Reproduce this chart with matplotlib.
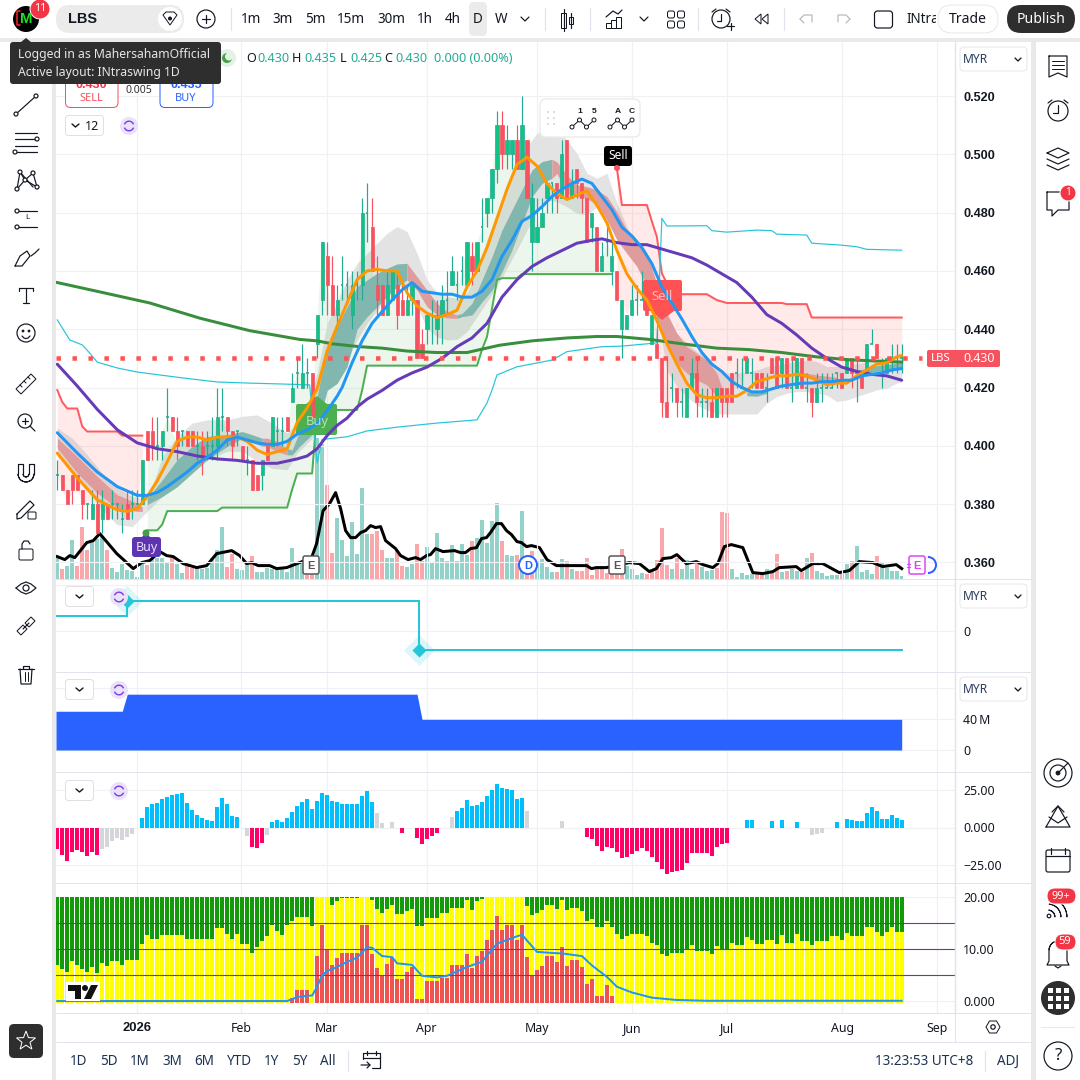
import numpy as np
import matplotlib
matplotlib.use("Agg")
import matplotlib.pyplot as plt
from matplotlib.patches import FancyBboxPatch, Rectangle, Circle, Polygon, Wedge

plt.rcParams['font.family'] = ['Noto Sans', 'DejaVu Sans']
BOLD_FONT = ['Liberation Sans', 'DejaVu Sans']

# ---------- price data (thousandths of MYR) ----------
ohlc_rows = [
(390,395,385,390),(390,390,385,385),(385,385,380,380),(390,390,380,385),(390,390,385,385),
(385,385,375,380),(380,380,375,380),(375,385,375,380),(380,385,370,370),(375,385,370,380),
(380,380,375,375),(380,385,375,380),(380,380,375,380),(375,380,370,375),(380,385,375,375),
(380,385,375,380),(380,385,380,380),(380,395,380,395),(405,405,395,395),(405,410,395,400),
(400,410,395,400),(400,405,395,405),(410,420,405,410),(410,410,405,405),(405,410,395,400),
(405,405,400,405),(405,405,400,400),(405,405,400,400),(400,405,395,400),(400,405,390,395),
(400,405,395,400),(400,410,395,400),(400,420,395,410),(410,420,405,410),(410,410,400,405),
(405,405,395,400),(405,405,400,405),(400,400,395,395),(395,400,390,395),(395,395,385,385),
(390,390,385,385),(390,395,385,395),(400,400,395,395),(400,410,400,410),(405,410,400,405),
(405,410,400,405),(410,410,405,405),(415,425,415,420),(425,430,420,425),(420,435,420,425),
(425,430,420,425),(425,425,410,410),(435,445,430,445),(450,470,445,470),(465,470,445,455),
(455,465,445,445),(445,455,440,450),(455,465,450,455),(455,460,450,455),(445,460,440,455),
(455,460,450,455),(455,485,450,480),(480,490,470,480),(475,485,460,460),(455,465,445,450),
(455,455,445,445),(445,460,445,455),(450,460,450,460),(455,460,440,445),(450,455,445,445),
(445,455,445,450),(450,455,445,455),(450,450,430,430),(435,440,430,430),(440,445,435,445),
(445,450,435,445),(440,450,435,445),(445,455,435,450),(450,460,445,450),(455,465,455,460),
(455,460,450,455),(460,465,455,460),(455,470,455,470),(465,470,455,460),(460,470,460,470),
(475,485,470,475),(480,485,475,485),(485,495,480,495),(495,515,490,510),(510,515,495,500),
(500,510,495,505),(500,505,495,505),(505,510,495,495),(495,520,495,510),(505,505,485,485),
(470,490,460,485),(470,485,470,475),(475,485,475,480),(485,490,480,490),(490,490,480,490),
(490,490,480,485),(485,505,485,500),(505,505,485,485),(485,495,485,490),(495,495,485,490),
(490,490,480,485),(485,485,470,470),(475,480,470,480),(475,475,460,460),(460,470,460,465),
(470,475,465,470),(460,470,455,465),(460,460,450,450),(440,450,430,450),(440,445,440,445),
(445,455,445,450),(450,455,445,450),(450,460,450,450),(450,450,445,445),(435,445,435,445),
(435,440,430,430),(430,430,410,415),(415,430,410,410),(420,425,415,420),(420,420,410,415),
(415,420,410,415),(410,420,410,420),(420,430,420,425),(425,430,410,415),(415,420,410,415),
(415,420,410,415),(415,420,410,410),(410,420,410,420),(420,420,410,415),(420,420,410,415),
(425,425,415,415),(425,430,420,425),(420,430,420,420),(425,430,425,430),(425,430,420,425),
(425,425,420,420),(425,425,420,420),(420,425,415,420),(430,430,425,425),(430,430,420,420),
(425,430,420,430),(430,430,420,420),(420,430,415,420),(420,430,420,430),(430,430,420,420),
(420,425,415,420),(420,420,410,415),(415,425,415,420),(420,425,415,420),(420,425,420,420),
(420,425,420,420),(425,425,420,425),(425,425,420,420),(425,430,425,430),(430,430,420,425),
(425,430,415,425),(425,425,420,420),(425,435,425,435),(435,440,435,435),(435,435,430,430),
(425,430,420,425),(425,430,425,430),(430,435,425,430),(430,435,425,430),(430,435,425,430)]
opens = np.array([r[0] for r in ohlc_rows]) / 1000
highs = np.array([r[1] for r in ohlc_rows]) / 1000
lows = np.array([r[2] for r in ohlc_rows]) / 1000
closes = np.array([r[3] for r in ohlc_rows]) / 1000
N = len(closes)
assert N == 170, N
bars = np.arange(N)

volume = [21,10,13,39,13,52,29,39,40,43, 29,11,7,15,9,8,2,15,14,20, 21,21,17,21,15,6,13,11,10,10,
 11,21,29,52,12,25,10,9,15,23, 7,7,11,10,11,11,7,31,15,15, 20,8,141,135,94,26,61,39,23,57,
 25,91,45,45,48,29,21,21,29,13, 12,15,35,18,32,16,46,21,18,34, 18,35,24,38,41,59,36,58,76,38,
 24,23,24,68,8,28,18,20,12,7, 7,20,18,10,8,8,21,4,12,13, 6,11,11,30,13,10,4,6,5,10,
 19,51,14,10,21,10,19,10,15,12, 8,9,11,67,66,10,2,6,4,5, 6,6,10,8,25,7,8,10,8,7,
 21,26,8,6,3,4,4,5,15,18, 33,7,9,5,23,17,11,8,8,3]
assert len(volume) == N, len(volume)
volume_red = [1,4,5,6,10,18,23,26,27,34,35,39,50,51,54,55,63,64,65,68,69,72,73,83,89,92,94,95,100,102,104,105,
 106,107,108,109,110,111,112,113,118,119,120,121,122,124,128,132,133,134,140,141,143,144,146,149,151,157,159,164]
vol_ma_x = [0,1.5,2.5,3.5,5.9,7.2,8.5,11.9,15.2,16.9,18.5,20.5,21.9,23.2,25.2,27.9,29.9,31.9,34.9,36.5,37.9,38.9,40.2,42.5,43.9,45.9,48.5,50.9,51.9,53.2,54.5,
 55.7,56.7,57.7,58.7,59.7,60.7,61.7,62.7,63.7,64.7,65.7,67.7,68.7,70.2,71.7,72.7,73.9,74.7,75.7,77.2,79.5,80.7,81.7,82.7,83.9,84.9,85.9,86.7,87.9,88.9,89.9,90.9,92,92.9,93.9,94.9,96.5,98,99.9,101.2,105.9,106.9,107.9,109.9,
 114.5,116.5,118.5,119.9,121.2,122.9,124,125.9,127.9,129.2,131.2,132.2,133.5,134.9,137.2,139.2,141.2,143.2,144.5,147.9,148.9,151.2,153.2,156.5,158.5,160.5,163.2,165.2,167.9,169]
vol_ma = [22,19,23,21,36,38,45,25,10,16,18,27,23,22,15,11,13,25,28,23,15,16,13,13,10,11,16,21,35,68,75,
 86,70,48,41,41,46,48,53,51,52,38,30,23,19,21,19,23,24,30,27,28,26,26,30,31,40,41,46,55,55,48,44,37,36,32,33,31,19,13,13,13,10,11,11,
 16,15,7,10,20,21,24,15,17,14,11,15,32,34,31,6,5,7,11,12,8,15,15,6,8,17,16,12,14,10]

# ---------- overlays ----------
orange_x = [0,4,8,12,14,16,18,20,22,24,26,28,30,32,34,36,38,40,42,44,46,48,50,52,54,56,58,60,62,64,66,68,70,72,74,76,78,80,82,84,86,88,90,92,94,96,98,100,102,104,106,108,110,112,114,116,118,120,122,124,126,128,130,132,134,136,138,140,142,144,146,148,150,152,154,156,158,160,162,164,166,168,169]
orange_y = [.3975,.389,.3815,.378,.3775,.3785,.3825,.388,.3945,.4015,.403,.403,.402,.403,.403,.403,.4015,.3985,.397,.398,.399,.408,.413,.4195,.4325,.441,.449,.457,.46,.4605,.46,.46,.4525,.448,.4455,.444,.445,.4465,.4545,.46,.468,.478,.488,.4965,.499,.496,.49,.4865,.4845,.486,.4875,.4825,.4765,.467,.459,.454,.45,.443,.435,.428,.4215,.4175,.4165,.4165,.417,.417,.419,.422,.423,.424,.424,.4245,.424,.4225,.421,.4215,.4215,.424,.426,.428,.4285,.4305,.431]
blue_x = [0,4,8,12,16,18,20,22,24,26,28,30,32,34,36,38,40,42,44,46,48,50,52,54,56,57,59,61,63,65,67,69,71,73,75,77,79,81,83,85,87,89,91,93,95,97,99,101,103,105,107,109,111,113,115,117,119,121,123,125,127,129,131,133,135,137,139,141,143,145,147,149,151,153,155,157,159,161,163,165,167,169]
blue_y = [.4045,.3975,.391,.386,.383,.383,.384,.386,.3885,.391,.394,.396,.3985,.402,.403,.402,.401,.4005,.4005,.4015,.404,.4055,.4075,.412,.417,.42,.4285,.436,.442,.446,.45,.4535,.456,.453,.4525,.452,.452,.451,.451,.453,.457,.465,.4705,.477,.479,.482,.4855,.488,.49,.4915,.49,.4855,.481,.475,.472,.468,.4625,.4545,.449,.4435,.4375,.432,.428,.4255,.422,.42,.4185,.4185,.4195,.4205,.421,.4215,.4215,.422,.422,.4225,.4225,.424,.4245,.425,.426,.4265]
purple_x = [0,4,8,12,16,20,24,28,32,36,40,44,48,50,52,54,56,58,60,62,65,68,71,74,77,80,83,86,89,92,95,98,101,104,107,109,112,115,118,121,124,127,130,133,136,139,142,145,148,151,154,157,160,163,166,169]
purple_y = [.428,.4205,.4125,.4055,.401,.399,.398,.3965,.3955,.395,.394,.394,.3955,.3965,.399,.4035,.407,.4095,.4133,.416,.419,.4225,.425,.427,.43,.434,.437,.442,.451,.457,.4615,.4645,.467,.4695,.4705,.471,.4697,.469,.469,.4675,.466,.4645,.462,.459,.456,.451,.445,.442,.438,.4335,.43,.427,.4255,.4245,.424,.4225]
ma_x = [0,8.5,18.5,28.5,38.5,48.5,52,55,60.5,65,70,76,82,88.5,95,102,108,112,118.5,125,132,138.5,145,152,158.5,169]
ma_y = [.456,.4528,.449,.4438,.4395,.4365,.436,.435,.434,.4335,.4325,.432,.432,.4345,.436,.437,.4375,.4375,.4365,.435,.4335,.433,.432,.4305,.4295,.4287]
cyan_x = [0,2.5,5,6.5,8,12,16,25,32,38.5,45,50.5,52,53,58,62,68,76,84,86,87,88,92,99,102,109,113,120,121,122,130,131,134,140,143,144,150,151,156.5,160,162,169]
cyan_y = [.4432,.4363,.4346,.4318,.4287,.4267,.4253,.4233,.4219,.4215,.4212,.4209,.3941,.4022,.4031,.4051,.4064,.4078,.4089,.4147,.4191,.4243,.4271,.4294,.4323,.434,.4342,.4353,.478,.4754,.4755,.4738,.4733,.474,.4738,.4726,.4723,.4695,.4689,.4683,.4674,.4671]

band_x = [0,3,6,9,12,15,17,19,21,24,27,30,34,37,40,43,46,48,50,52,54,56,58,60,62,64,66,68,70,72,74,76,78,80,82,84,86,88,90,92,94,96,98,100,102,104,106,108,110,112,114,116,118,120,122,124,126,128,130,132,134,136,138,140,142,144,146,148,150,152,154,156,158,160,162,164,166,168,169]
band_top = [.4061,.4026,.3969,.3906,.3855,.3826,.382,.386,.3963,.4032,.4078,.4089,.4089,.4101,.4106,.4078,.4043,.4078,.4135,.4249,.442,.4489,.4569,.4626,.466,.4695,.4729,.4752,.4735,.466,.4569,.4523,.4512,.4506,.4523,.4603,.4706,.4797,.4878,.4975,.5026,.5072,.5089,.5089,.5049,.5003,.4935,.4918,.4935,.4832,.4752,.4683,.4615,.4512,.4432,.4386,.4352,.4323,.4306,.4272,.4249,.4249,.4254,.426,.4272,.4277,.4283,.4289,.4294,.4289,.4272,.4272,.4272,.4283,.4285,.4294,.43,.4312,.4317]
band_bot = [.3975,.3912,.3843,.378,.3729,.3723,.3758,.3792,.3826,.386,.3935,.3952,.3981,.3981,.3946,.3923,.3918,.3975,.4009,.4043,.4214,.4237,.4294,.4363,.442,.4466,.4512,.4546,.4546,.4477,.4403,.4374,.4363,.4365,.4392,.4443,.4494,.4546,.4609,.4672,.474,.4797,.4843,.4837,.482,.4797,.4792,.482,.482,.4728,.4672,.4626,.4569,.4455,.426,.4203,.4169,.414,.4123,.4111,.4109,.4109,.4109,.4109,.4146,.4169,.418,.4186,.4186,.418,.4174,.4152,.4157,.4169,.418,.4192,.4197,.4215,.422]

ribbons = [
 ('red',  [0,4,8,12,16,17], [.4026,.3963,.3895,.3832,.3803,.379], [.3992,.3906,.3838,.3786,.3775,.3775]),
 ('teal', [18,21,24,27,30,34,37,39,41], [.382,.3883,.3952,.3998,.4032,.4038,.4049,.4038,.4026], [.3798,.3826,.386,.3906,.3952,.3998,.4026,.4015,.3998]),
 ('red',  [41,42,44,46], [.4026,.4026,.4015,.399], [.3998,.3998,.398,.3969]),
 ('teal', [46,47,48.5,52,54,56,58,60,62,64,66,68,70], [.399,.3986,.4049,.4169,.434,.4409,.4477,.4546,.4569,.4592,.4609,.4624,.4626], [.3969,.3969,.3998,.4055,.419,.4214,.4271,.44,.4443,.4477,.4512,.4546,.4569]),
 ('red',  [70,72,74,76,78,80], [.4626,.458,.4534,.4489,.446,.4449], [.4569,.4534,.4477,.4449,.4439,.4437]),
 ('teal', [80,81,83,85,87,89,91,93,95,97,99], [.4449,.4454,.4489,.4569,.4649,.474,.4809,.4878,.4946,.4975,.4983], [.4437,.4443,.4449,.4494,.4534,.4597,.4672,.4763,.4855,.49,.4918]),
 ('red',  [99,100,102,104,106,108,110,112,114,116,118,120,122,124,126,128,130,132,133], [.4983,.4974,.4929,.4895,.4889,.4878,.4855,.4803,.474,.4706,.466,.4557,.4455,.4386,.434,.4317,.4294,.4249,.42], [.4918,.4934,.4866,.4855,.4849,.4827,.4775,.4706,.466,.4615,.4546,.4443,.4352,.4283,.4249,.4226,.4209,.4169,.4169]),
 ('teal', [138,140,142], [.4185,.4187,.4195], [.4172,.417,.418]),
 ('red',  [148,152,156], [.4255,.4243,.4235], [.424,.4226,.4215]),
 ('teal', [160,164,169], [.4258,.4275,.4285], [.4245,.4255,.4265]),
]

red_stop_a = [.4191,.4150,.4128,.4128,.4128,.4066] + [.4049]*7 + [.4035]*5
green_stop = [.371]*3 + [.373] + [.3776]*11 + [.3788]*14 + [.385] + [.3905]*4 + [.4123]*9 + [.419] + [.4275]*23 + [.433,.4374,.447,.4569] + [.4575]*4 + [.4589]*19
red_stop_b = [.4952] + [.4826]*6 + [.477,.4717,.4592,.4557,.4535,.4525] + [.452]*6 + [.451,.450,.4495] + [.449]*12 + [.4486]*5 + [.444]*19
last_price = 0.430

# ---------- lower panes ----------
zigzag_x = [14,14,72.4,72.4,169]
zigzag_y = [15,30,30,-19,-19]
area_values = [50]*14 + [72]*59 + [39.6]*97

hist_values = [-14,-18,-22,-16,-15,-16,-19,-16,-18,-14,-13,-9,-7,-8,-6,-4,0,
 6.4,14,16,16.5,19,20.5,22,22.5,23,16.5,12,8.5,6.5,5,4.5,14,20,16,8,7,0,-5.5,-13,-13.5,-10,-5,
 3.8,5,3.8,6.5,10.5,14.5,17,19,12.5,18,23,22,18,17,16,16,16,16,21,24.5,17,10,3,0,4,0,-3.5,0,0,
 -7,-11,-7.5,-5.5,-3.5,0,0,7,11,13,18.5,14.5,15,17,21,25,29,26.5,26,25,19,20,11,0,0,0,0,0,0,4.4,0,0,0,0,
 -6,-7.5,-12,-15.5,-13,-13.5,-16,-20,-19.5,-17.5,-15.5,-13.5,-15.5,-19.5,-23,-27.5,-31,-29.5,-29,-28,-23.5,-17,-17,-17,-17,-19,-13,-11,-10,
 0,0,0,5,5,0,0,0,4.4,0,5,0,0,3.8,0,0,-5,-4,-3.5,0,0,3.8,0,5.8,5,4.4,4.4,10,14,11,5.8,5.8,8.5,6.5,5]
assert len(hist_values) == N, len(hist_values)
hist_gray = [9,10,11,12,13,14,15,38,42,64,65,67,79,94,101,151,152,153]

yellow_top = [6.9,6.2,5.6,7.7,6.9,6.2,5.6,6.6,5.4,7.3, 6.8,7.7,7.7,6.9,7.9,7.9,7.9,11,12.7,11.9,
 11.9,12.7,12.7,12.7,12.7,12.7,11.9,11.9,11.9,11.9, 11.9,11.9,14,14,13,11.9,13,11.1,11.1,9.2,
 10.4,11.5,12.5,14.6,13.6,12.7,14.6,15.4,16.3,16.3, 16.3,14.4,20,20,20,18.6,19.2,19.8,19.8,19.8,
 19.8,20,20,19.4,17.8,17,17.8,18.6,16.7,16.7, 17.3,17.8,14.4,14.4,16.1,16.1,16.1,16.9,16.9,18,
 18,18,19.4,17.6,19.2,19.6,20,20,20,20, 20,20,20,20,18.4,16.5,17,17.5,18.6,18.6,
 17.8,19.4,17.5,18,18,17.3,15.4,15.9,14.2,14.2, 15.4,14.2,13,11.9,12.5,13,13,13,12.5,11.3,
 10.8,9,8.7,9.2,9.2,9.2,10,10.8,9.6,9.6, 9.6,9,10.6,10,10,11.3,10.8,10.8,12.3,11.7,
 11,11,11.7,11.7,11.1,12.7,11.3,11.3,12.9,11.5, 11.5,10.8,11.5,11.5,11.5,12.5,12.5,11.7,13.2,12.5,
 12.5,12.5,14.2,14.2,13.4,12.5,13.4,14.2,13.4,13.4]
red_top = [0]*47 + [.9,2.4,2.4,2.4,0,9,14.9,10.2,7.3,8.5,9.6,9.6,9.6,9.6,14.9,14.9,9.3,6.6,5.2,7.5,8.5,4.6,4.6,
 5.8,6.8,.6,.6,4.1,4.1,4.1,4.7,4.7,7.3,7.3,7.3,9.4,6.6,9,10,12.1,14,16.7,14,14.9,14.9,12.1,14.9,8.7,5.2,6.2,7.1,9,9,
 7.9,10.6,7.1,8.1,8.1,6.9,3.5,4.5,1.2,1.2,3.3,1.2] + [0]*58
assert len(yellow_top) == N and len(red_top) == N, (len(yellow_top), len(red_top))
rsi_x = [0,46,48,50,51,52,53,54,56,58,60,62,63,65,67,68,71,73,76,78,82,85,88,92,93,94,96,99,101,105,107,110,112,115,119,124,130,169]
rsi_y = [.05,.05,.8,1.1,1.1,2.8,5,5.8,6.6,7.6,8.4,10.4,10.3,8.7,8.5,7.3,7,4.9,4.6,4.9,6.6,7.6,11.1,12.5,12.8,11.7,9.5,9.3,9.2,8.7,6.9,4.7,2.8,1.7,.7,.25,.1,.1]
level_lines = [5, 10, 15]

month_ticks = [15.9, 36.8, 53.9, 73.9, 96, 115, 134.1, 157.1, 176]
month_labels = ['2026', 'Feb', 'Mar', 'Apr', 'May', 'Jun', 'Jul', 'Aug', 'Sep']
price_ticks = [.36, .38, .40, .42, .44, .46, .48, .50, .52]

# ---------- layout ----------
DPI = 100
fig = plt.figure(figsize=(10.8, 10.8), dpi=DPI, facecolor='white')
PX = 72 / DPI
L, R = 56.0, 955.3
X0 = 57.3
PITCH = (901.7 - 57.3) / 169
xlim = ((L - X0) / PITCH, (R - X0) / PITCH)
GRID = '#f0f1f4'
TXT = '#131722'
SEP = '#e0e3eb'

def pane(top, bottom, z=2):
    ax = fig.add_axes([L / 1080, 1 - bottom / 1080, (R - L) / 1080, (bottom - top) / 1080], zorder=z)
    ax.set_xlim(*xlim)
    ax.patch.set_alpha(0)
    for k in ['top', 'left', 'bottom']:
        ax.spines[k].set_visible(False)
    ax.spines['right'].set_color(SEP)
    ax.spines['right'].set_linewidth(1.0)
    ax.yaxis.tick_right()
    ax.set_xticks(month_ticks)
    ax.tick_params(axis='both', length=0, labelbottom=False, labelcolor=TXT, labelsize=12.3 * PX, pad=8 * PX)
    ax.grid(True, color=GRID, lw=1.0 * PX * 1.2, zorder=0)
    ax.set_axisbelow(True)
    return ax

P_TOP, P_BOT = 42.0, 578.6
def p_at(y):
    return .52 - (y - 96) / 2915

ax = pane(P_TOP, P_BOT, z=3)
ax.set_ylim(p_at(P_BOT), p_at(P_TOP))
ax.set_yticks(price_ticks)
ax.set_yticklabels([f'{v:.3f}' for v in price_ticks], fontweight='bold', family=BOLD_FONT, fontsize=12.6 * PX)

axv = fig.add_axes(ax.get_position(), zorder=2)
axv.set_xlim(*xlim)
axv.set_ylim(0, P_BOT - P_TOP)
axv.axis('off')
vol_cols = ['#f9a7aa' if i in volume_red else '#92d2c9' for i in bars]
axv.bar(bars, volume, width=.72, color=vol_cols, linewidth=0)
axv.plot(vol_ma_x, vol_ma, color='black', lw=3 * PX, solid_joinstyle='round', zorder=3)

ax.fill_between(band_x, band_top, band_bot, color='#e3e3e4', lw=0, zorder=1)
ax.fill_between(bars[18:112], green_stop, closes[18:112], color='#4caf50', alpha=.1, lw=0, zorder=1.2)
ax.fill_between(bars[:18], red_stop_a, closes[:18], color='#ff5252', alpha=.12, lw=0, zorder=1.2)
ax.fill_between(bars[112:], red_stop_b, closes[112:], color='#ff5252', alpha=.12, lw=0, zorder=1.2)
for kind, xs, top, bot in ribbons:
    ax.fill_between(xs, top, bot, color='#82b7b0' if kind == 'teal' else '#df9c9c', lw=0, zorder=1.5)
ax.plot(bars[18:112], green_stop, color='#4caf50', lw=2 * PX, zorder=1.8)
ax.plot(bars[:18], red_stop_a, color='#ff5a5f', lw=2 * PX, zorder=1.8)
ax.plot(bars[112:], red_stop_b, color='#ff5a5f', lw=2 * PX, zorder=1.8)
ax.plot(cyan_x, cyan_y, color='#26c6da', lw=1.2 * PX, zorder=1.9)

up = closes >= opens
wick_cols = ['#22ab94' if u else '#f7525f' for u in up]
ax.vlines(bars, lows, highs, colors=wick_cols, lw=1.2 * PX, zorder=2.2)
body = np.abs(closes - opens)
solid = body > 0
ax.bar(bars[solid], body[solid], bottom=np.minimum(opens, closes)[solid], width=.62,
       color=['#12c184' if u else '#f7525f' for u in up[solid]],
       edgecolor=['#22ab94' if u else '#f7525f' for u in up[solid]], linewidth=.7 * PX, zorder=2.3)
ax.hlines(closes[~solid], bars[~solid] - .28, bars[~solid] + .28, colors='#22ab94', lw=1.6 * PX, zorder=2.3)

ax.plot(ma_x, ma_y, color='#388e3c', lw=3 * PX, zorder=3)
ax.plot(purple_x, purple_y, color='#673ab7', lw=3 * PX, zorder=3.1, solid_capstyle='round')
ax.plot(orange_x, orange_y, color='#ff9800', lw=3 * PX, zorder=3.2, solid_capstyle='round')
ax.plot(blue_x, blue_y, color='#2196f3', lw=3 * PX, zorder=3.3, solid_capstyle='round')
ax.plot([xlim[0], (922 - X0) / PITCH], [last_price, last_price], color='#ff5252', lw=4.5 * PX,
        linestyle=(0, (1, 2.55)), dash_capstyle='butt', zorder=3.4)

# pane 2: zigzag
ax2 = pane(579.2, 671.5)
ax2.set_ylim(631 - 671.5, 631 - 579.2)
ax2.set_yticks([0, 46])
ax2.set_yticklabels(['0', ''])
ax2.plot([xlim[0]] + zigzag_x, [zigzag_y[0]] + zigzag_y, color='#26c6da', lw=2 * PX, solid_joinstyle='miter', zorder=3)
ax2.scatter([14, 72.4], [30, -19], marker='D', s=(22 * PX) ** 2, color='#26c6da', alpha=.15, lw=0, zorder=2)
ax2.scatter([14, 72.4], [30, -19], marker='D', s=(10 * PX) ** 2, color='#26c6da', lw=0, zorder=4)

# pane 3: area
ax3 = pane(672.2, 772.2)
K = .775
ax3.set_ylim((750 - 772.2) / K, (750 - 672.2) / K)
ax3.set_yticks([0, 40, 80])
ax3.set_yticklabels(['0', '40\u2009M', ''])
ax3.fill_between(np.r_[xlim[0], bars], 0, np.r_[area_values[0], area_values], color='#2962ff', lw=0, zorder=3)

# pane 4: histogram
ax4 = pane(772.8, 883.2)
ax4.set_ylim((827.5 - 883.2) / 1.5, (827.5 - 772.8) / 1.5)
ax4.set_yticks([-25, 0, 25])
ax4.set_yticklabels(['\u221225.00', '0.000', '25.00'])
hc = ['#d5d6d9' if i in hist_gray else ('#00bfff' if v > 0 else '#ff0066') for i, v in enumerate(hist_values)]
ax4.bar(bars, hist_values, width=.82, color=hc, lw=0, zorder=3)

# pane 5: stacked
ax5 = pane(883.8, 1013.3)
ax5.set_ylim((1001.3 - 1013.3) / 5.2, (1001.3 - 883.8) / 5.2)
ax5.set_yticks([0, 10, 20])
ax5.set_yticklabels(['0.000', '10.00', '20.00'])
ax5.tick_params(axis='x', labelbottom=True, pad=9 * PX)
ax5.set_xticklabels(month_labels, fontsize=12.3 * PX)
ax5.get_xticklabels()[0].set_fontweight('bold')
ax5.get_xticklabels()[0].set_family(BOLD_FONT)
ax5.get_xticklabels()[0].set_fontsize(13 * PX)
top20 = np.full(N, 20.0)
ax5.bar(bars, top20 + .25, bottom=-.25, width=.8, color='#129a09', lw=0, zorder=2)
ax5.bar(bars, np.array(yellow_top) + .25, bottom=-.25, width=.8, color='#ffff00', lw=0, zorder=2.1)
ax5.bar(bars, np.array(red_top), bottom=-.25, width=.8, color='#ef5350', lw=0, zorder=2.2)
for v in level_lines:
    ax5.axhline(v, color='#8e24aa', lw=1.1 * PX, zorder=2.5)
ax5.plot(rsi_x, rsi_y, color='#2196f3', lw=2 * PX, zorder=3)

# ---------- interface overlay (pixel coordinates) ----------
ui = fig.add_axes([0, 0, 1, 1], zorder=10)
ui.set_xlim(0, 1080)
ui.set_ylim(1080, 0)
ui.axis('off')
ui.patch.set_alpha(0)
DARK = '#2e2e2e'

def box(x0, y0, x1, y1, fc='white', ec='none', r=4, lw=1, alpha=None, z=5):
    p = FancyBboxPatch((x0, y0), x1 - x0, y1 - y0, boxstyle=f'round,pad=0,rounding_size={r}',
                       fc=fc, ec=ec, lw=lw * PX, alpha=alpha, zorder=z)
    ui.add_patch(p)

def rect(x0, y0, x1, y1, c, z=1):
    ui.add_patch(Rectangle((x0, y0), x1 - x0, y1 - y0, fc=c, ec='none', zorder=z))

def t(x, y, s, px=13, c=TXT, ha='center', w='normal', z=8, alpha=None):
    kw = {'family': BOLD_FONT} if w == 'bold' else {}
    ui.text(x, y + 1.3, s, fontsize=px * PX, color=c, ha=ha, va='center', fontweight=w, zorder=z, alpha=alpha, **kw)

def ln(xs, ys, c=TXT, lw=1.2, z=7):
    ui.plot(xs, ys, color=c, lw=lw * PX, zorder=z, solid_capstyle='round', solid_joinstyle='round')

def circ(x, y, r, fc='none', ec=TXT, lw=1.2, z=7):
    ui.add_patch(Circle((x, y), r, fc=fc, ec=ec, lw=lw * PX, zorder=z))

def poly(pts, fc, ec='none', alpha=None, z=6):
    ui.add_patch(Polygon(pts, closed=True, fc=fc, ec=ec, alpha=alpha, zorder=z, lw=1 * PX))

def under_box(x0, y0, x1, y1, tip, fc):
    """Signal flag placed in the price pane, below candles and moving averages."""
    ax.add_patch(FancyBboxPatch((x0, y0), x1 - x0, y1 - y0, boxstyle='round,pad=0,rounding_size=2',
                                fc=fc, ec='none', transform=ui.transData, zorder=1.95))
    ax.add_patch(Polygon(tip, closed=True, fc=fc, ec='none', transform=ui.transData, zorder=1.95))

# separators / frames
BAND = '#e9e9e9'
rect(0, 38, 1080, 42, BAND)
rect(52, 42, 56, 1080, BAND)
rect(1031, 42, 1036, 1080, BAND)
for y in (578.6, 671.7, 772.4, 883.4, 1013.4, 1041.7):
    ln([56, 1031], [y, y], SEP, 1, z=2)
ln([955.3, 955.3], [42, 1041.7], SEP, 1, z=2)

# top bar
circ(26, 19, 13, fc='black', ec='none')
t(26, 17.5, 'M', 15, '#22dd22', w='bold')
ln([20, 17, 17, 20], [11, 11, 25, 25], '#ee2222', 1.6)
ln([32, 35, 35, 32], [11, 11, 25, 25], '#ee2222', 1.6, z=6.5)
circ(40, 9, 10, fc='#f23645', ec='white', lw=1)
t(40, 7.5, '11', 10.5, 'white')
box(56, 5, 184, 33, fc='#ebebeb', r=14)
t(68, 18, 'LBS', 14.5, ha='left', w='bold')
circ(170, 19, 12, fc='white', ec='none')
poly([(163, 15), (166, 12), (174, 12), (177, 15), (170, 25)], 'white', TXT, z=8)
circ(170, 18.5, 2, fc=TXT, ec='none', z=9)
circ(206, 19, 9, fc='white', ec=TXT)
ln([202, 210], [19, 19]); ln([206, 206], [15, 23])
ln([230.5, 230.5], [8, 30], '#e0e3eb')
box(469, 2, 487, 36, fc='#ebebeb', r=5, z=4)
for x, s in zip((251, 283, 315, 351, 391, 425, 453, 478, 501),
                ('1m', '3m', '5m', '15m', '30m', '1h', '4h', 'D', 'W')):
    t(x, 18.5, s, 13.5)
ln([521, 525, 529], [17, 21, 17])
for x in (545, 590, 698, 784):
    ln([x, x], [8, 30], '#e0e3eb')
# candle icon
ui.add_patch(Rectangle((561, 13), 5, 15, fc='white', ec=TXT, lw=1 * PX, zorder=7))
ln([563.5, 563.5], [9, 31]); ui.add_patch(Rectangle((569, 17), 4, 7, fc='white', ec=TXT, lw=1 * PX, zorder=7))
ln([571, 571], [13, 28])
# indicators icon
ln([606, 613, 618, 622], [17, 11, 14, 10])
for a, b, c in ((606, 611, 23), (611, 616, 20), (616, 621, 17)):
    ui.add_patch(Rectangle((a, c), 5, 28 - c, fc='white', ec=TXT, lw=1 * PX, zorder=7))
ln([640, 644, 648], [17, 21, 17])
for xx in (667.5, 677.5):
    for yy in (11, 21):
        box(xx, yy, xx + 7, yy + 7, fc='white', ec=TXT, r=2, z=7)
circ(721, 19, 9, fc='white', ec=TXT)
ln([721, 721, 717], [14, 21, 21]); ln([712, 716], [12, 9]); ln([730, 726], [12, 9])
ln([727, 734], [26, 26]); ln([730.5, 730.5], [22.5, 29.5])
poly([(755, 19), (761, 14), (761, 24)], 'white', TXT, z=7)
poly([(762, 19), (768, 14), (768, 24)], 'white', TXT, z=7)
ln([800, 804, 812, 812], [19, 15, 15, 22], '#b5b8c0')
ln([800, 804], [19, 23], '#b5b8c0')
ln([850, 846, 838, 838], [19, 15, 15, 22], '#b5b8c0')
ln([850, 846], [19, 23], '#b5b8c0')
box(874.5, 11, 892.5, 28, fc='white', ec=TXT, r=3, lw=1.2)
t(907, 18.5, 'INtra', 13.5, ha='left')
rect(936, 2, 938, 36, 'white', z=8.5)
box(938, 5, 998, 33, fc='white', ec='#e8e8e8', r=14, z=9)
t(968, 18, 'Trade', 14, z=10)
box(1007, 5, 1075, 33, fc=DARK, r=14, z=9)
t(1041, 18, 'Publish', 14, 'white', z=10)

# legend row
circ(227, 58, 9, fc='#e4f2e6', ec='none')
circ(227, 58, 5, fc='#43a047', ec='none')
circ(229, 56.5, 4, fc='#e4f2e6', ec='none')
TEAL = '#22ab94'
for x, s in ((246, 'O'), (292, 'H'), (340, 'L'), (384, 'C')):
    t(x, 57.5, s, 12.6, TXT, ha='left')
for x, s in ((257, '0.430'), (304, '0.435'), (350, '0.425'), (395, '0.430'), (434, '0.000 (0.00%)')):
    t(x, 57.5, s, 12.6, TEAL, ha='left')

# buy / sell buttons
box(65.5, 72, 118, 107.5, fc='white', ec='#f7525f', r=5, lw=1, z=5)
t(91, 84, '0.430', 12.5, '#f23645', w='bold', z=6)
t(91, 97, 'SELL', 11, '#f7525f', z=6)
t(139, 89.5, '0.005', 10.5, '#333333', z=6)
box(160, 72, 213, 107.5, fc='white', ec='#2962ff', r=5, lw=1, z=5)
t(186, 84, '0.435', 12.5, '#2962ff', w='bold', z=6)
t(186, 97, 'BUY', 11, '#2962ff', z=6)
# tooltip
box(10, 42, 221, 84, fc=DARK, r=3, z=9)
poly([(21, 42), (26, 38), (31, 42)], DARK, z=9)
t(18, 53.5, 'Logged in as MahersahamOfficial', 12.2, '#e6e6e6', ha='left', z=10)
t(18, 71.5, 'Active layout: INtraswing 1D', 12.2, '#e6e6e6', ha='left', z=10)

def chevron_box(x0, y0, x1, y1, label=None):
    box(x0, y0, x1, y1, fc='white', ec='#e0e0e0', r=3)
    cx = x0 + 10 if label else (x0 + x1) / 2
    ln([cx - 3.5, cx, cx + 3.5], [(y0 + y1) / 2 - 1.5, (y0 + y1) / 2 + 1.5, (y0 + y1) / 2 - 1.5], TXT, 1.4)
    if label:
        t(x1 - 11, (y0 + y1) / 2 - .5, label, 12.5)

def sync(x, y):
    circ(x, y, 9, fc='#e9e2f8', ec='none')
    ui.add_patch(Wedge((x, y), 5.5, 20, 160, width=1.4, fc='#7c3aed', ec='none', zorder=8))
    ui.add_patch(Wedge((x, y), 5.5, 200, 340, width=1.4, fc='#7c3aed', ec='none', zorder=8))

chevron_box(65.5, 115.5, 103.5, 135.5, '12'); sync(129, 126)
chevron_box(65.5, 586.5, 93.5, 606.5); sync(119, 597)
chevron_box(65.5, 679.5, 93.5, 699.5); sync(119, 690)
chevron_box(65.5, 780.5, 93.5, 800.5); sync(119, 791)

# drawing toolbar
box(540, 99, 640, 137, fc='white', ec='#ececec', r=6, lw=1.4, z=5)
for xx in (548, 554):
    for yy in (112, 118, 124):
        rect(xx - 1, yy - 1, xx + 1, yy + 1, '#dddddd', z=6)
for x0, a, b in ((572, '1', '5'), (610, 'A', 'C')):
    xs = [x0, x0 + 7.5, x0 + 14.5, x0 + 22]
    ys = [127, 120, 127, 120]
    ln(xs, ys, TXT, 1)
    for xx, yy in zip(xs, ys):
        circ(xx, yy, 2, fc='white', ec=TXT, lw=1)
    t(x0 + 7.5, 110.5, a, 8.5, w='bold')
    t(x0 + 22, 110.5, b, 8.5, w='bold')

# signal labels
box(604, 146, 632, 166, fc='black', r=3, z=6)
t(618, 154.5, 'Sell', 12, 'white')
circ(617, 168, 3, fc='#f7525f', ec='none')
under_box(643, 280, 682, 311, [(651, 311), (674, 311), (662, 320)], '#ff5252')
t(662, 295, 'Sell', 13, '#ffffff', alpha=.6)
under_box(296, 404, 337, 435, [(306, 404), (327, 404), (317, 396)], '#4caf50')
t(317, 420, 'Buy', 13, '#ffffff', alpha=.6)
circ(146, 533, 3.5, fc='#43a047', ec='none')
box(132, 537, 161, 557, fc='#5e35b1', r=3)
poly([(142, 537), (150, 537), (146, 532)], '#5e35b1')
t(146.5, 546, 'Buy', 12.5, '#e8e0ff')

def event(x, ec, letter, fc='white'):
    box(x - 8, 556, x + 8, 574, fc=fc, ec=ec, r=2, lw=1.5)
    t(x, 564.5, letter, 11, ec, w='bold')

event(311, '#555555', 'E')
event(617, '#555555', 'E')
circ(528, 565, 9, fc='white', ec='#2962ff', lw=2)
t(528, 564.5, 'D', 11, '#2962ff', w='bold')
ui.add_patch(Wedge((928, 565), 9, -90, 90, width=2, fc='#2962ff', ec='none', zorder=6))
event(917, '#e040fb', 'E')
ln([907, 910], [564, 564], '#e040fb', 1.2, z=9); ln([907, 910], [567, 567], '#e040fb', 1.2, z=9)

# price tag
box(927, 350, 1000, 367, fc='#f7525f', r=2, z=6)
t(941, 357.5, 'LBS', 11.5, 'white')
t(979, 357.5, '0.430', 12.3, 'white')

# currency selectors
for y0 in (47, 584, 677):
    box(960, y0, 1027, y0 + 24, fc='white', ec='#e8e8ec', r=4, z=6)
    t(963, y0 + 11.5, 'MYR', 12, '#273c5a', ha='left')
    ln([1015, 1018, 1021], [y0 + 11, y0 + 14, y0 + 11], TXT, 1.3)

# TradingView mark
rect(66, 982, 100, 1001, 'white', z=6)
poly([(68, 985), (81, 985), (81, 999), (75, 999), (75, 991), (68, 991)], '#111111', z=7)
circ(85, 988, 3, fc='#111111', ec='none')
poly([(91, 985), (98, 985), (91, 999), (84, 999)], '#111111', z=7)

# left toolbar
def left_icons():
    x = 26
    ln([16, 36], [114, 96]); circ(16, 114, 2, fc='white'); circ(36, 96, 2, fc='white')
    for y in (133, 139, 146, 152):
        ln([15, 37], [y, y])
    circ(37, 139, 2, fc='white'); circ(15, 152, 2, fc='white')
    xs = [17, 20, 25, 33, 37]; ys = [189, 172, 180, 173, 187]
    ln(xs, ys); ln([17, 25, 37], [189, 180, 187]); ln([20, 33], [172, 187])
    for a, b in zip(xs, ys):
        circ(a, b, 2, fc='white')
    ln([15, 37], [211, 211]); ln([15, 37], [227, 227]); circ(17, 211, 2, fc='white'); circ(17, 227, 2, fc='white')
    t(27, 216.5, 'L', 8)
    ln([15, 22, 30, 27, 20, 15], [266, 266, 256, 251, 256, 266]); ln([31, 35, 39], [256, 253, 249])
    ln([19, 33], [288, 288]); ln([26, 26], [288, 303]); ln([19, 19], [288, 291]); ln([33, 33], [288, 291]); ln([23, 29], [303, 303])
    circ(x, 333, 9); circ(23, 331, .8, fc=TXT); circ(29, 331, .8, fc=TXT)
    ln([22, 24, 26, 28, 30], [336, 338, 338.6, 338, 336])
    poly([(16, 389), (31, 374), (36, 379), (21, 394)], 'white', TXT, z=7)
    ln([20, 22], [385, 387], TXT, 1); ln([24, 26], [381, 383], TXT, 1); ln([28, 30], [377, 379], TXT, 1)
    circ(25, 421, 7); ln([30, 35], [426, 431]); ln([22, 28], [421, 421]); ln([25, 25], [418, 424])
    ln([18, 18], [464, 474]); ln([34, 34], [464, 474]); ln([18, 23], [464, 464]); ln([29, 34], [464, 464])
    ln([23, 23], [464, 474]); ln([29, 29], [464, 474]); ui.add_patch(Wedge((26, 474), 8, 0, 180, width=.1, fc='none', ec=TXT, lw=1 * PX, zorder=7))
    ui.add_patch(Wedge((26, 474), 3, 0, 180, width=.1, fc='none', ec=TXT, lw=1 * PX, zorder=7))
    ln([17, 30, 34, 21, 17, 17], [514, 501, 505, 518, 519, 514]); box(28, 512, 36, 519, fc='white', ec=TXT, r=1, z=7)
    box(19, 549, 33, 560, fc='white', ec=TXT, r=1.5, z=7); ln([22, 22, 24, 28, 30], [549, 544, 541, 541, 544])
    ln([16, 21, 26, 31, 36, 31, 26, 21, 16], [588, 584, 582, 584, 588, 592, 594, 592, 588]); circ(26, 588, 3)
    poly([(17, 631), (23, 625), (27, 629), (21, 635)], 'white', TXT, z=7)
    poly([(25, 623), (31, 617), (35, 621), (29, 627)], 'white', TXT, z=7)
    ln([23, 29], [629, 623])
    ln([18, 34], [669, 669]); ln([20, 21, 31, 32], [669, 684, 684, 669]); ln([23, 23, 29, 29], [669, 666, 666, 669])
    ln([24.5, 24.5], [672, 681], TXT, 1); ln([27.5, 27.5], [672, 681], TXT, 1)

left_icons()
box(9, 1024, 43, 1058, fc=DARK, r=5)
star_a = np.radians(np.arange(-90, 270, 36))
star_r = np.where(np.arange(10) % 2 == 0, 10, 4.2)
poly(list(zip(26 + star_r * np.cos(star_a), 1041 + star_r * np.sin(star_a))), DARK, 'white', z=7)

# right toolbar
def right_icons():
    x = 1058
    ln([1049, 1049, 1058, 1067, 1067, 1049], [56, 77, 73, 77, 56, 56])
    for y in (61, 65, 69):
        ln([1052, 1064], [y, y], TXT, 1)
    circ(x, 111, 10); ln([x, x, x - 5], [105, 113, 113]); ln([1048, 1052], [103, 100]); ln([1068, 1064], [103, 100])
    ln([1047, 1058, 1069, 1058, 1047], [153, 148, 153, 158, 153]); ln([1047, 1058, 1069], [159, 164, 159]); ln([1047, 1058, 1069], [165, 170, 165])
    ln([1047, 1069, 1069, 1058, 1052, 1052, 1047, 1047], [192, 192, 210, 210, 216, 210, 210, 192])
    circ(1068, 193, 8, fc='#f23645', ec='white', lw=1); t(1068, 191.5, '1', 10, 'white', z=9)
    circ(x, 773, 14); circ(x, 773, 8); circ(x, 773, 1.8, fc=TXT); ln([x, 1068], [773, 763])
    ln([1046, 1058, 1070, 1046], [827, 806, 827, 827]); ln([1049, 1058, 1067], [817, 823, 817], TXT); ln([1052, 1058, 1064], [812, 806, 812])
    box(1046, 850, 1070, 872, fc='white', ec=TXT, r=2, lw=1.2, z=7); ln([1046, 1070], [856, 856]); ln([1051, 1051], [848, 854]); ln([1065, 1065], [848, 854])
    circ(1049, 916, 1.8)
    for r_ in (7, 13, 19):
        ui.add_patch(Wedge((1048, 917), r_, -85, 0, width=.1, fc='none', ec=TXT, lw=1 * PX, zorder=7))
    box(1047, 888, 1076, 904, fc='#f23645', ec='white', r=8, lw=1, z=8); t(1061, 895, '99+', 11, 'white', z=9)
    ui.add_patch(Wedge((x, 950), 9, 180, 360, width=.1, fc='none', ec=TXT, lw=1 * PX, zorder=7))
    ln([1049, 1049, 1047, 1069, 1067, 1067], [950, 961, 965, 965, 961, 950]); ln([1055, 1058, 1061], [966, 968, 966])
    box(1055, 934, 1076, 950, fc='#f23645', ec='white', r=8, lw=1, z=8); t(1065, 940.5, '59', 11, 'white', z=9)
    circ(x, 998, 17, fc=DARK, ec='none')
    for xx in (1050, 1058, 1066):
        for yy in (990, 998, 1006):
            rect(xx - 2.5, yy - 2.5, xx + 2.5, yy + 2.5, 'white', z=8)
    ln([1041, 1074], [1027, 1027], '#e8e8e8', 1)
    circ(x, 1056, 14); t(x, 1055, '?', 17)

right_icons()

# hex settings
poly([(986, 1027), (989.5, 1021), (996.5, 1021), (1000, 1027), (996.5, 1033), (989.5, 1033)], 'white', TXT, z=7)
circ(993, 1027, 2.2)

# bottom bar
for x, s in ((79, '1D'), (109, '5D'), (140, '1M'), (172, '3M'), (204, '6M'), (239, 'YTD'), (272, '1Y'), (300, '5Y'), (328, 'All')):
    t(x, 1060, s, 13.5, '#1f3350')
ln([347.5, 347.5], [1051, 1071], '#e0e3eb')
ln([363, 363, 380, 380, 372], [1059, 1053, 1053, 1068, 1068]); ln([363, 380], [1058, 1058]); ln([367, 367], [1051, 1055]); ln([376, 376], [1051, 1055])
ln([361, 370, 367], [1065, 1065, 1062]); ln([370, 367], [1065, 1068])
t(973, 1060, '13:23:53 UTC+8', 13.5, '#1f3350', ha='right')
ln([985, 985], [1051, 1071], '#e0e3eb')
t(1008, 1060, 'ADJ', 13.5, '#1f3350')

fig.savefig('out.png', dpi=DPI, facecolor='white')
